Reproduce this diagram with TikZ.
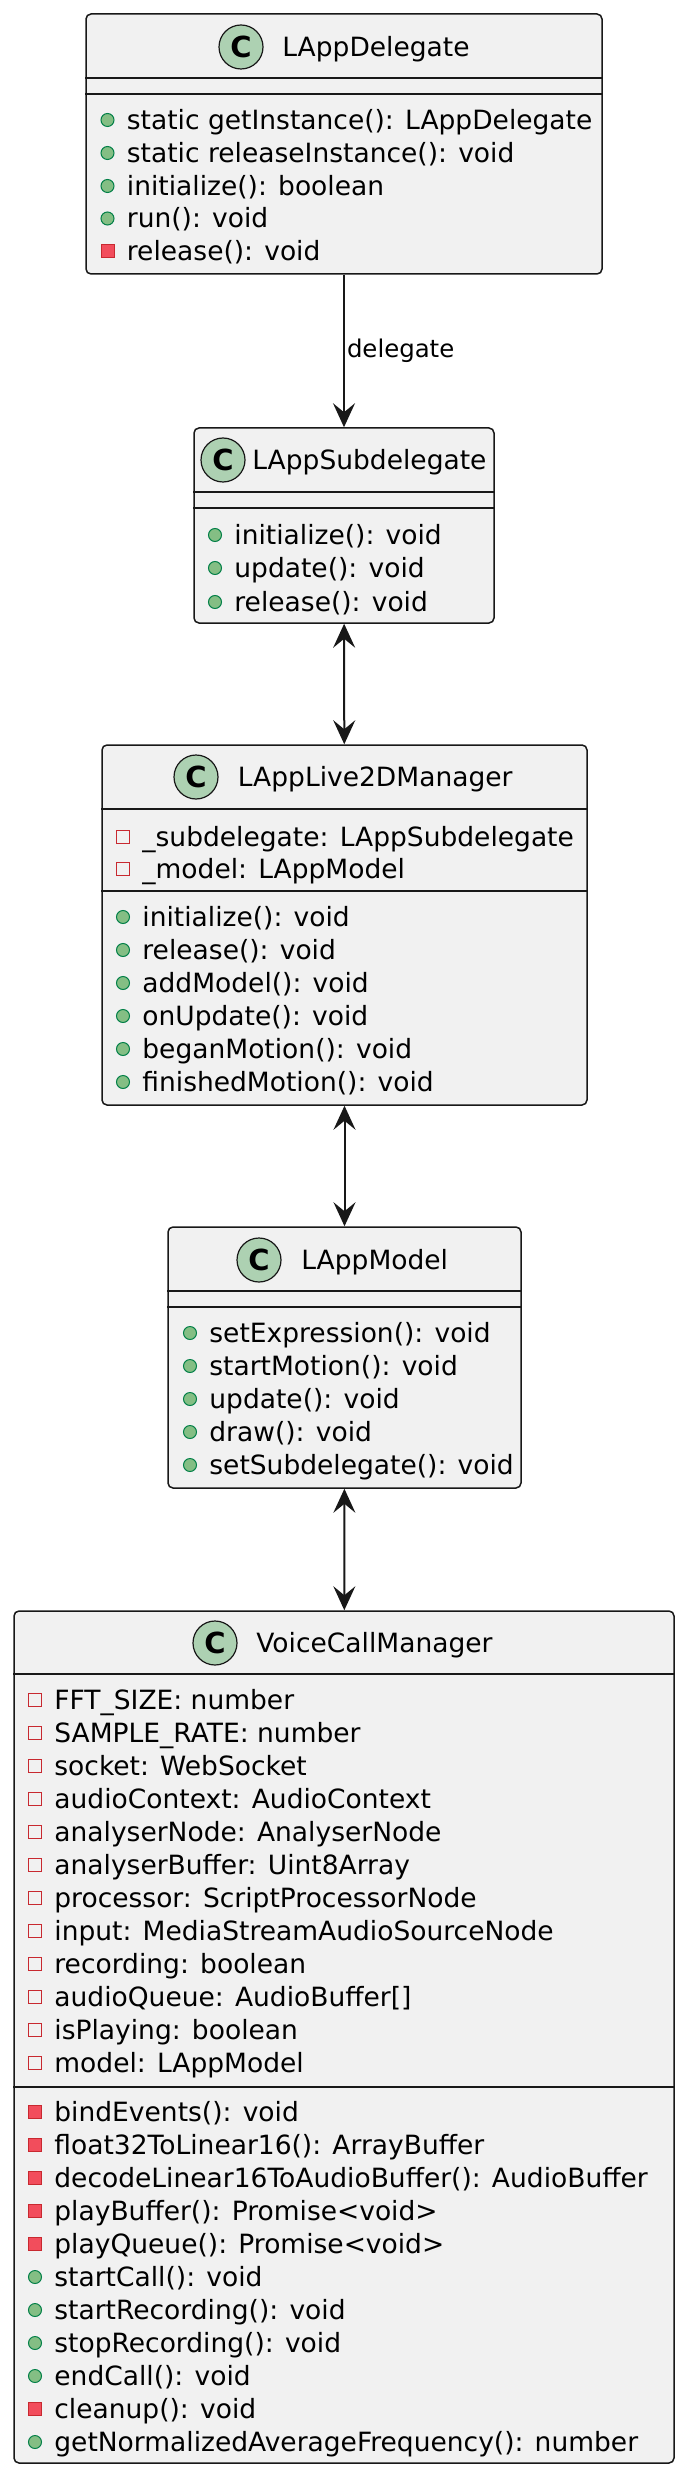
\documentclass[tikz,border=0pt]{standalone}
\usepackage{fontspec}
\setmainfont{DejaVu Sans}
\usetikzlibrary{arrows.meta}

\definecolor{linec}{HTML}{181818}
\definecolor{boxbg}{HTML}{F1F1F1}
\definecolor{classgreen}{HTML}{ADD1B2}
\definecolor{pubfill}{HTML}{84BE84}
\definecolor{pubdraw}{HTML}{038048}
\definecolor{privfill}{HTML}{F24D5C}
\definecolor{privdraw}{HTML}{C82930}

\newcommand{\rowfont}{\fontsize{13.25pt}{16pt}\selectfont}

\begin{document}
\begin{tikzpicture}[x=0.5pt, y=-0.5pt,
    classbox/.style={draw=linec, fill=boxbg, line width=0.75pt, rounded corners=2.5pt, inner sep=0pt},
    classicon/.style={circle, draw=linec, fill=classgreen, line width=0.6pt, minimum size=22pt, inner sep=0pt, font=\fontsize{14.5pt}{14.5pt}\selectfont\bfseries},
    member/.style={anchor=west, inner sep=0pt, font=\rowfont, text height=12.6pt, text depth=3.3pt},
    pubicon/.style={circle, draw=pubdraw, fill=pubfill, line width=0.5pt, minimum size=6.5pt, inner sep=0pt, label distance=6pt},
    privmicon/.style={rectangle, draw=privdraw, fill=privfill, line width=0.5pt, minimum size=6.5pt, inner sep=0pt, label distance=6pt},
    privficon/.style={rectangle, draw=privdraw, line width=0.5pt, minimum size=6.5pt, inner sep=0pt, label distance=6pt},
    pub/.style={member, label={[pubicon]left:{}}},
    privm/.style={member, label={[privmicon]left:{}}},
    privf/.style={member, label={[privficon]left:{}}},
    sepline/.style={draw=linec, line width=0.75pt},
    assoc/.style={draw=linec, line width=1pt},
    tip/.tip={Stealth[length=12pt, width=11pt, inset=4.5pt]}]
    \useasboundingbox (0,0) rectangle (686,2476);

    % Classes
    \node (delegate) at (344,144) [classbox, minimum width=258pt, minimum height=130pt] {};
    \node (subdelegate) at (344,525.5) [classbox, minimum width=150pt, minimum height=97.5pt] {};
    \node (manager) at (344.5,925) [classbox, minimum width=242.5pt, minimum height=180pt] {};
    \node (model) at (344.5,1357.5) [classbox, minimum width=176.5pt, minimum height=130.5pt] {};
    \node (voice) at (344,2037) [classbox, minimum width=330pt, minimum height=426pt] {};

    % Compartment lines
    \draw[sepline] (delegate.west |- 0,78) -- (delegate.east |- 0,78);
    \draw[sepline] (delegate.west |- 0,94) -- (delegate.east |- 0,94);
    \draw[sepline] (subdelegate.west |- 0,492) -- (subdelegate.east |- 0,492);
    \draw[sepline] (subdelegate.west |- 0,508) -- (subdelegate.east |- 0,508);
    \draw[sepline] (manager.west |- 0,809) -- (manager.east |- 0,809);
    \draw[sepline] (manager.west |- 0,891) -- (manager.east |- 0,891);
    \draw[sepline] (model.west |- 0,1291) -- (model.east |- 0,1291);
    \draw[sepline] (model.west |- 0,1307) -- (model.east |- 0,1307);
    \draw[sepline] (voice.west |- 0,1674) -- (voice.east |- 0,1674);
    \draw[sepline] (voice.west |- 0,2087) -- (voice.east |- 0,2087);

    % Titles
    \node (c1) at (241,47) [classicon] {C};
    \node (t1) at (282,47) [member] {LAppDelegate};
    \node (c2) at (223,460) [classicon] {C};
    \node (t2) at (252,460) [member] {LAppSubdelegate};
    \node (c3) at (196,777) [classicon] {C};
    \node (t3) at (237.5,777) [member] {LAppLive2DManager};
    \node (c4) at (259,1260) [classicon] {C};
    \node (t4) at (301,1260) [member] {LAppModel};
    \node (c5) at (215,1643) [classicon] {C};
    \node (t5) at (256,1643) [member] {VoiceCallManager};

    % LAppDelegate
    \node (d1) at (126.5,120) [pub] {static getInstance(): LAppDelegate};
    \node (d2) at (126.5,153) [pub] {static releaseInstance(): void};
    \node (d3) at (126.5,186) [pub] {initialize(): boolean};
    \node (d4) at (126.5,218.5) [pub] {run(): void};
    \node (d5) at (126.5,251.5) [privm] {release(): void};

    % LAppSubdelegate
    \node (s1) at (234,535) [pub] {initialize(): void};
    \node (s2) at (234,568) [pub] {update(): void};
    \node (s3) at (234,602) [pub] {release(): void};

    % LAppLive2DManager
    \node (l1) at (142,837) [privf] {\_subdelegate: LAppSubdelegate};
    \node (l2) at (142,869) [privf] {\_model: LAppModel};
    \node (l3) at (142,917) [pub] {initialize(): void};
    \node (l4) at (142,950) [pub] {release(): void};
    \node (l5) at (142,983) [pub] {addModel(): void};
    \node (l6) at (142,1016) [pub] {onUpdate(): void};
    \node (l7) at (142,1049) [pub] {beganMotion(): void};
    \node (l8) at (142,1082) [pub] {finishedMotion(): void};

    % LAppModel
    \node (m1) at (209,1333) [pub] {setExpression(): void};
    \node (m2) at (209,1366) [pub] {startMotion(): void};
    \node (m3) at (209,1399) [pub] {update(): void};
    \node (m4) at (209,1432) [pub] {draw(): void};
    \node (m5) at (209,1465) [pub] {setSubdelegate(): void};

    % VoiceCallManager
    \node (v1) at (54,1700) [privf] {FFT\_SIZE: number};
    \node (v2) at (54,1733) [privf] {SAMPLE\_RATE: number};
    \node (v3) at (54,1766) [privf] {socket: WebSocket};
    \node (v4) at (54,1799) [privf] {audioContext: AudioContext};
    \node (v5) at (54,1832) [privf] {analyserNode: AnalyserNode};
    \node (v6) at (54,1865) [privf] {analyserBuffer: Uint8Array};
    \node (v7) at (54,1898) [privf] {processor: ScriptProcessorNode};
    \node (v8) at (54,1931) [privf] {input: MediaStreamAudioSourceNode};
    \node (v9) at (54,1964) [privf] {recording: boolean};
    \node (v10) at (54,1997) [privf] {audioQueue: AudioBuffer[]};
    \node (v11) at (54,2030) [privf] {isPlaying: boolean};
    \node (v12) at (54,2063) [privf] {model: LAppModel};
    \node (v13) at (54,2112) [privm] {bindEvents(): void};
    \node (v14) at (54,2145) [privm] {float32ToLinear16(): ArrayBuffer};
    \node (v15) at (54,2178) [privm] {decodeLinear16ToAudioBuffer(): AudioBuffer};
    \node (v16) at (54,2211) [privm] {playBuffer(): Promise<void>};
    \node (v17) at (54,2244) [privm] {playQueue(): Promise<void>};
    \node (v18) at (54,2277) [pub] {startCall(): void};
    \node (v19) at (54,2310) [pub] {startRecording(): void};
    \node (v20) at (54,2343) [pub] {stopRecording(): void};
    \node (v21) at (54,2376) [pub] {endCall(): void};
    \node (v22) at (54,2409) [privm] {cleanup(): void};
    \node (v23) at (54,2442) [pub] {getNormalizedAverageFrequency(): number};

    % Associations
    \draw[assoc, -tip] (delegate) -- (subdelegate) node[midway, right, inner sep=1pt, font=\fontsize{12.2pt}{14pt}\selectfont] {delegate};
    \draw[assoc, tip-tip] (subdelegate) -- (manager);
    \draw[assoc, tip-tip] (manager) -- (model);
    \draw[assoc, tip-tip] (model) -- (voice);
\end{tikzpicture}
\end{document}
